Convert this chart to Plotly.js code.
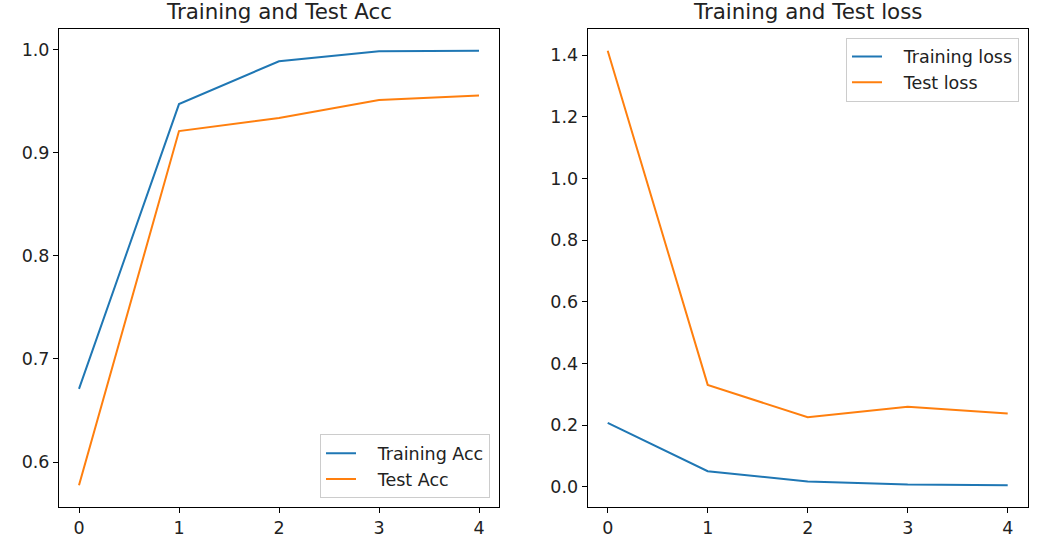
<!DOCTYPE html>
<html>
<head>
<meta charset="utf-8">
<script src="https://cdn.plot.ly/plotly-3.0.1.min.js"></script>
<style>html,body{margin:0;padding:0;background:#fff;}#chart{width:1052px;height:536px;}</style>
</head>
<body>
<div id="chart"></div>
<script>
const epochs = [0, 1, 2, 3, 4];
const trainAcc = [0.671, 0.947, 0.9885, 0.9983, 0.9987];
const testAcc = [0.5775, 0.9208, 0.9334, 0.9509, 0.9552];
const trainLoss = [0.2077, 0.051, 0.0175, 0.0078, 0.0055];
const testLoss = [1.414, 0.331, 0.226, 0.2597, 0.238];
const accTicks = [0.6, 0.7, 0.8, 0.9, 1.0];
const lossTicks = [0.0, 0.2, 0.4, 0.6, 0.8, 1.0, 1.2, 1.4];
const xTicks = [0, 1, 2, 3, 4];
const names = ['Training Acc', 'Test Acc', 'Training loss', 'Test loss'];
const titles = ['Training and Test Acc', 'Training and Test loss'];

const blue = '#1f77b4', orange = '#ff7f0e';
const FONT = 'DejaVu Sans, sans-serif';
const W = 1052, H = 536;
const SP = '\u00a0\u00a0\u00a0';

function pad(arrs) {
  const all = [].concat(...arrs);
  const mn = Math.min(...all), mx = Math.max(...all), d = mx - mn;
  return [mn - 0.05 * d, mx + 0.05 * d];
}

const traces = [
  {x: epochs, y: trainAcc, name: SP + names[0], mode: 'lines', line: {color: blue, width: 2}, xaxis: 'x', yaxis: 'y', legend: 'legend'},
  {x: epochs, y: testAcc, name: SP + names[1], mode: 'lines', line: {color: orange, width: 2}, xaxis: 'x', yaxis: 'y', legend: 'legend'},
  {x: epochs, y: trainLoss, name: SP + names[2], mode: 'lines', line: {color: blue, width: 2}, xaxis: 'x2', yaxis: 'y2', legend: 'legend2'},
  {x: epochs, y: testLoss, name: SP + names[3], mode: 'lines', line: {color: orange, width: 2}, xaxis: 'x2', yaxis: 'y2', legend: 'legend2'}
];

const axBase = {
  showline: true, mirror: true, linecolor: '#000', linewidth: 1,
  showgrid: false, zeroline: false, ticks: 'outside', ticklen: 5, tickwidth: 1, tickcolor: '#000',
  tickfont: {family: FONT, size: 17.5, color: '#222'}, fixedrange: true
};

const yTop = 1 - 29 / H, yBot = 1 - 507 / H;
const legFont = {family: FONT, size: 17.5, color: '#222'};

const layout = {
  width: W, height: H,
  margin: {l: 0, r: 0, t: 0, b: 0},
  paper_bgcolor: '#fff', plot_bgcolor: '#fff',
  font: {family: FONT, color: '#222'},
  xaxis: Object.assign({}, axBase, {domain: [59 / W, 499 / W], range: [-0.2, 4.2], tickvals: xTicks, anchor: 'y'}),
  yaxis: Object.assign({}, axBase, {domain: [yBot, yTop], range: pad([trainAcc, testAcc]), tickvals: accTicks, tickformat: '.1f', anchor: 'x'}),
  xaxis2: Object.assign({}, axBase, {domain: [587.7 / W, 1027.7 / W], range: [-0.2, 4.2], tickvals: xTicks, anchor: 'y2'}),
  yaxis2: Object.assign({}, axBase, {domain: [yBot, yTop], range: pad([trainLoss, testLoss]), tickvals: lossTicks, tickformat: '.1f', anchor: 'x2'}),
  legend: {x: 490 / W, xanchor: 'right', y: 1 - 498.3 / H, yanchor: 'bottom', bgcolor: 'rgba(255,255,255,0.8)', bordercolor: '#cccccc', borderwidth: 1, font: legFont},
  legend2: {x: 1019 / W, xanchor: 'right', y: 1 - 37.7 / H, yanchor: 'top', bgcolor: 'rgba(255,255,255,0.8)', bordercolor: '#cccccc', borderwidth: 1, font: legFont},
  annotations: [
    {text: titles[0], xref: 'x domain', yref: 'paper', x: 0.5, y: 1 - 11 / H, xanchor: 'center', yanchor: 'middle', showarrow: false, font: {family: FONT, size: 21.4, color: '#222'}},
    {text: titles[1], xref: 'x2 domain', yref: 'paper', x: 0.5, y: 1 - 11 / H, xanchor: 'center', yanchor: 'middle', showarrow: false, font: {family: FONT, size: 21.4, color: '#222'}}
  ],
  showlegend: true
};

Plotly.newPlot('chart', traces, layout, {displayModeBar: false, staticPlot: true});
</script>
</body>
</html>
